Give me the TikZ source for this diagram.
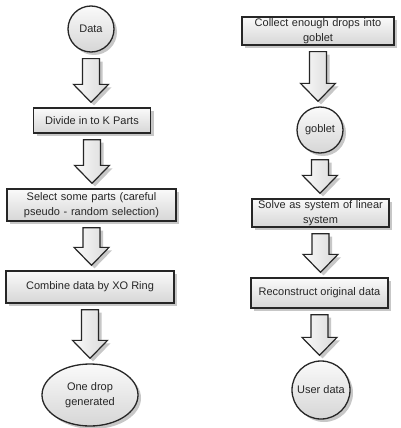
\documentclass[tikz,border=0pt]{standalone}
\usepackage{fontspec}
\setmainfont{Liberation Sans}
\usetikzlibrary{calc,shadows,shapes.geometric}
\tikzset{
  shade3d/.style={top color=gray!4, bottom color=gray!32, draw=black!85, line width=1.3pt,
    drop shadow={shadow xshift=3pt, shadow yshift=-3pt, fill=gray!55, opacity=0.8}},
  boxnode/.style={shade3d, rectangle, inner sep=0pt, align=center, text=black!85,
    font=\fontsize{11}{14.5}\selectfont},
  circnode/.style={shade3d, circle, inner sep=0pt, align=center, text=black!85,
    font=\fontsize{11}{14.5}\selectfont},
  ellnode/.style={shade3d, ellipse, inner sep=0pt, align=center, text=black!85,
    font=\fontsize{11}{14.5}\selectfont},
  flowarr/.style={shade3d, left color=gray!4, right color=gray!30, line width=1.2pt}
}
\newcommand\flowarrow[2]{%
  \path[flowarr] let \p1=(#1.south), \p2=(#2.north) in
    (\x1-8.5pt,\y1-6pt) -- (\x1+8.5pt,\y1-6pt) -- (\x1+8.5pt,\y2+23pt)
    -- (\x1+17.5pt,\y2+23pt) -- (\x1,\y2+5pt) -- (\x1-17.5pt,\y2+23pt)
    -- (\x1-8.5pt,\y2+23pt) -- cycle;}
\begin{document}
\begin{tikzpicture}[x=1pt,y=-1pt]
\useasboundingbox[fill=white] (0,0) rectangle (400,428);
% left column
\node[circnode, minimum size=46pt] (data) at (91,29) {Data};
\node[boxnode, minimum width=117pt, minimum height=25pt] (divide) at (92,120.5) {Divide in to K Parts};
\node[boxnode, minimum width=169pt, minimum height=32pt, text width=165pt] (select) at (91.5,205) {Select some parts (careful\\pseudo - random selection)};
\node[boxnode, minimum width=168pt, minimum height=32pt] (combine) at (90,287) {Combine data by XO Ring};
\node[ellnode, minimum width=96pt, minimum height=62pt] (drop) at (90,395) {One drop\\generated};
% right column
\node[boxnode, minimum width=152pt, minimum height=28pt, text width=148pt] (collect) at (318,31) {Collect enough drops into\\goblet};
\node[circnode, minimum size=46pt] (goblet) at (320,130) {goblet};
\node[boxnode, minimum width=137pt, minimum height=28pt, text width=133pt] (solve) at (320.5,213) {Solve as system of linear\\system};
\node[boxnode, minimum width=137pt, minimum height=30pt] (recon) at (319.5,293) {Reconstruct original data};
\node[circnode, minimum size=58pt] (user) at (321,390) {User data};
% arrows
\flowarrow{data}{divide}
\flowarrow{divide}{select}
\flowarrow{select}{combine}
\flowarrow{combine}{drop}
\flowarrow{collect}{goblet}
\flowarrow{goblet}{solve}
\flowarrow{solve}{recon}
\flowarrow{recon}{user}
\end{tikzpicture}
\end{document}
